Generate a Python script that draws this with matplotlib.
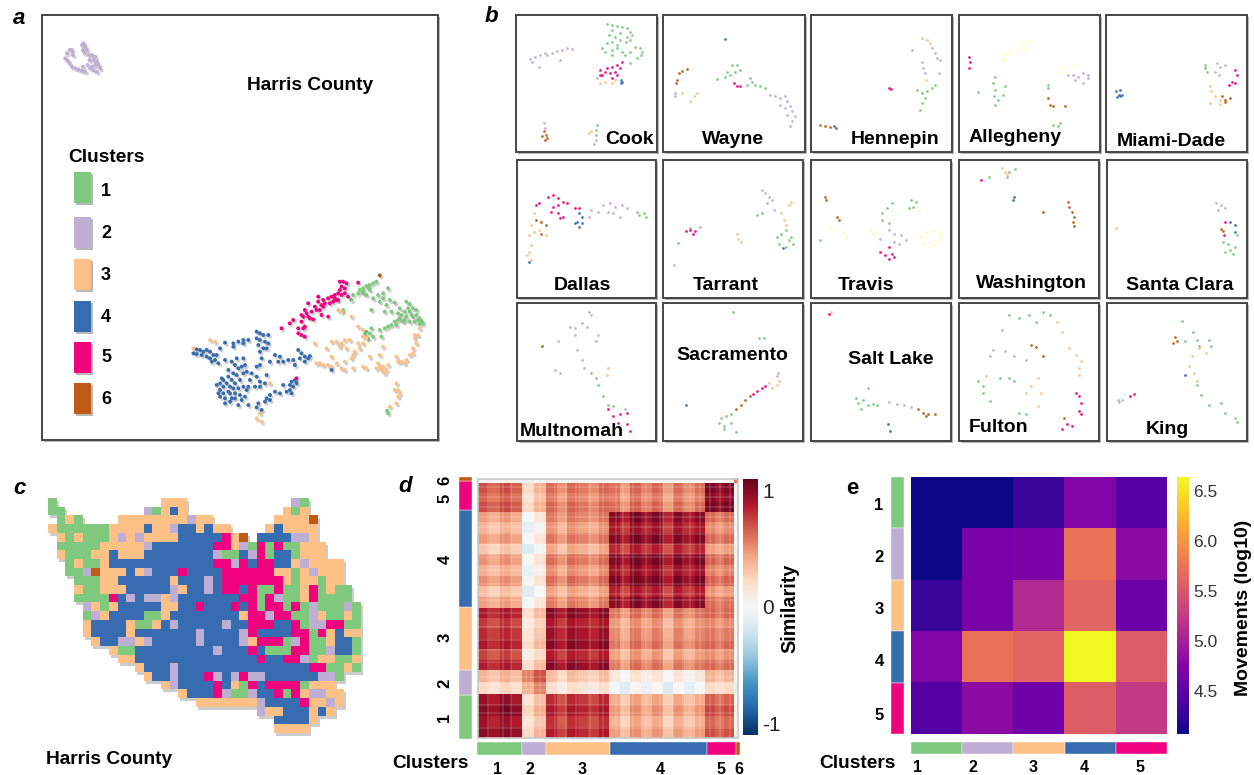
import numpy as np
import matplotlib
matplotlib.use('Agg')
import matplotlib.pyplot as plt
import matplotlib.patheffects as pe
from matplotlib.colors import ListedColormap
from matplotlib.patches import Rectangle

plt.rcParams['font.family'] = ['Liberation Sans', 'DejaVu Sans']

W, H = 1254, 775

# Accent palette, cluster number -> colour (7 only shows up in the small panels)
COLORS = {1: '#7fc97f', 2: '#beaed4', 3: '#fdc086', 4: '#386cb0', 5: '#f0027f', 6: '#bf5b17', 7: '#ffff99'}

# panel a, embedding positions per cluster
harris_1 = [(1040,845),(1030,850),(1020,855),(1010,858),(1000,865),(990,870),(985,880),(1000,880),(1010,885),(1020,870),
            (970,885),(965,900),(940,930),(1075,865),(1045,885),(1060,895),(1080,900),(1095,908),(1050,905),(1070,915),
            (1030,895),(1025,930),(1065,935),(1085,935),(1110,925),(1130,905),(1140,912),(1150,925),(1160,930),(1135,925),
            (1125,935),(1115,945),(1130,950),(1145,945),(1160,945),(1165,960),(1175,962),(1180,970),(1170,972),(1155,965),
            (1140,965),(1120,965),(1105,960),(1095,965),(1085,975),(1075,980),(1065,985),(1050,990),(1055,1010),(1025,985),
            (1010,995),(1020,1000),(1030,1010),(1015,1015),(1005,1005),(1075,1240),(1072,1232),
            (1150,950),(1170,955),(1140,935),(1125,960),(1110,955),(1105,940),(1100,975),(1060,880),(1000,875),(1015,862)]
harris_2 = [(105,175),(110,160),(118,150),(125,150),(128,165),(112,182),(118,190),(125,200),(135,205),(145,208),(155,212),
            (165,215),(158,200),(155,135),(160,130),(165,140),(170,150),(158,150),(162,158),(175,165),(185,165),(178,180),
            (190,180),(200,185),(205,195),(210,205),(195,195),(185,200),(190,210),(200,215),(180,205),(172,195),(195,170)]
harris_3 = [(490,1045),(540,1020),(555,1025),(720,1150),(690,1240),(680,1255),(695,1265),(925,930),(935,935),(965,950),
            (985,980),(1000,990),(855,1030),(890,1045),(905,1025),(920,1025),(935,1030),(945,1020),(960,1020),(930,1040),
            (1000,1030),(990,1045),(975,1055),(965,1075),(945,1085),(860,1090),(880,1095),(895,1095),(905,1070),(920,1090),
            (935,1105),(945,1110),(970,1105),(1000,1100),(1010,1105),(1020,1070),(1060,1040),(1050,1065),(1045,1090),
            (1040,1105),(1055,1110),(1070,1110),(1075,1095),(1100,1070),(1115,1085),(1130,1080),(1140,1065),(1150,1045),
            (1155,1015),(1165,1005),(1170,985),(1100,1150),(1105,1170),(1105,1190),(1100,1210),(1080,1220),
            (1050,1100),(1060,1100),(1065,1120),(1125,1090),(1105,1085),(1150,1060),(1160,1030),(1155,1005),(950,1045),
            (985,1030),(970,1065),(905,1100),(870,1090),(1000,1010),(1010,1015),(1095,1170),(1110,1180)]
harris_4 = [(490,1060),(500,1048),(510,1050),(520,1055),(530,1050),(540,1055),(550,1065),(555,1080),(530,1070),(545,1085),
            (565,1090),(585,1080),(570,1045),(585,1028),(610,1040),(625,1025),(640,1020),(655,1020),(680,995),(690,1000),
            (700,1005),(715,1005),(690,1020),(705,1025),(685,1035),(700,1045),(695,1075),(690,1095),(680,1100),(720,1085),
            (735,1065),(750,1070),(745,1085),(760,1085),(775,1080),(790,1080),(795,1095),(805,1050),(815,1060),(825,1070),
            (810,1075),(825,1085),(840,1068),(605,1085),(620,1075),(640,1075),(645,1095),(635,1100),(615,1095),(595,1110),
            (570,1150),(580,1160),(570,1170),(590,1150),(600,1160),(610,1120),(620,1125),(650,1115),(665,1120),(680,1130),
            (710,1125),(690,1145),(705,1150),(630,1140),(615,1150),(625,1165),(640,1160),(655,1160),(675,1160),(690,1160),
            (600,1180),(615,1180),(630,1185),(645,1190),(570,1190),(585,1195),(600,1205),(625,1215),(655,1215),(685,1210),
            (680,1222),(695,1230),(710,1195),(720,1185),(705,1205),(735,1175),(750,1180),(760,1155),(780,1170),(790,1160),
            (795,1140),(785,1180),(785,1145),(905,1110),
            (575,1135),(560,1155),(565,1180),(580,1140),(595,1130),(605,1140),(640,1120),(625,1105),(660,1140),(610,1165),
            (595,1175),(580,1180),(585,1210),(605,1195),(615,1195),(635,1200),(560,1065),(540,1075),(515,1065),(500,1062),
            (650,1170),(720,1200),(770,1175),(780,1155),(800,1150),(690,1055),(710,1045),(680,1015),(715,1030),(835,1075),
            (640,1030),(610,1030)]
harris_5 = [(755,985),(780,970),(790,960),(805,985),(820,985),(805,1000),(815,1005),(825,1010),(825,980),(815,945),(825,930),
            (835,910),(820,950),(830,940),(845,935),(855,920),(840,955),(850,958),(865,890),(865,905),(880,900),(880,920),
            (870,930),(875,945),(895,950),(885,910),(895,895),(905,890),(915,885),(925,880),(920,900),(910,905),(930,870),
            (935,860),(930,845),(940,845),(950,850),(945,880),(935,885),(955,890),(985,848),(800,1135),
            (900,910),(915,895),(875,915),(860,930),(835,950),(815,965),(945,865),(925,900)]
harris_6 = [(1050,826)]

# panel b, one dict per county: cluster -> positions
cook = {1: [(255,72),(265,75),(275,78),(285,80),(295,85),(300,95),(305,105),(295,110),(280,100),(265,90),(258,105),(270,110),
            (265,125),(280,120),(292,125),(300,120),(255,130),(245,145),(250,155),(265,150),(275,145),(285,155),(300,155),
            (310,140),(320,145),(325,155),(315,175),(300,190),(290,165),(265,165),(275,135),(322,165),(235,375),(233,390),(232,405)],
        2: [(100,178),(110,170),(120,165),(130,160),(145,158),(155,152),(165,150),(175,145),(185,148),(118,200),(105,185),
            (160,180),(135,165),(235,235),(128,370),(130,385),(232,420),(228,432)],
        3: [(240,248),(250,245),(265,250),(270,240),(222,395),(218,400)],
        4: [(283,240),(282,250),(285,245)],
        5: [(240,210),(245,225),(255,205),(265,200),(275,195),(285,185),(270,215),(260,220),(275,225),(240,225),(250,215),
            (265,235),(280,205)],
        6: [(128,395),(132,405),(125,410),(135,415),(130,420)]}
wayne = {1: [(475,238),(490,230),(495,215),(505,195),(515,195),(520,210),(500,225),(510,215),(540,235),(545,245),(550,255),
             (560,260),(570,265),(535,255)],
         2: [(390,280),(390,288),(580,285),(590,290),(600,295),(610,290),(615,305),(620,320),(625,335),(630,350),(625,365),
             (620,380),(615,345),(600,315),(610,325)],
         3: [(405,280),(435,280),(428,290),(420,303)],
         4: [(490,118)],
         5: [(508,250),(515,258),(520,260)],
         6: [(415,208),(405,212),(398,220),(395,240),(393,250)]}
hennepin = {1: [(910,255),(905,265),(895,275),(885,280),(875,270),(890,295),(885,310),(880,330)],
            2: [(865,150),(905,145),(910,160),(915,175),(920,180),(885,185),(887,205),(890,220),(918,220)],
            3: [(885,115),(895,120),(900,130),(892,240)],
            4: [(708,378),(712,385)],
            5: [(818,265),(822,268)],
            6: [(680,376),(690,378),(700,382)]}
allegheny = {1: [(1030,230),(1025,250),(1030,270),(1028,290),(1035,300),(1030,315),(1050,260),(1045,285),(995,278),(1135,255),
                 (1135,265),(1145,375),(1155,380),(1160,370)],
             2: [(1175,225),(1185,225),(1195,230),(1205,220),(1215,225),(1190,240),(1205,250),(1215,235)],
             5: [(978,172),(980,185),(978,205)],
             6: [(1135,295),(1140,315),(1145,320),(1170,320)],
             7: [(1095,122),(1085,130),(1075,145),(1060,155),(1050,165),(1048,180),(1090,150),(1165,205),(1160,220),(1190,195)]}
miami_dade = {1: [(1450,195),(1450,205),(1455,215)],
              2: [(1475,190),(1480,200),(1470,215),(1478,225),(1490,195)],
              3: [(1460,260),(1463,275),(1470,290),(1480,300),(1460,310),(1480,312)],
              4: [(1272,275),(1280,272),(1278,285),(1285,285),(1275,293),(1280,290)],
              5: [(1510,210),(1515,225),(1505,245),(1498,255),(1510,250)],
              6: [(1485,290),(1490,300),(1500,295),(1490,308)]}
dallas = {1: [(265,170),(270,180),(280,175),(285,185)],
          2: [(170,165),(165,185),(185,170),(195,150),(210,145),(220,155),(235,150),(245,160),(215,175),(230,185),(205,170)],
          3: [(50,175),(45,210),(40,240),(45,270),(40,290),(35,300),(45,315),(50,230),(75,240),(60,225)],
          4: [(145,175),(150,185),(140,200),(135,205),(150,205),(145,215),(40,320)],
          5: [(60,145),(55,150),(80,125),(90,120),(100,130),(110,140),(120,145),(100,150),(90,155),(85,170),(100,175),(110,185),
              (105,190),(135,160),(145,160)],
          6: [(55,195),(65,200),(75,210),(65,235)]}
tarrant = {1: [(515,180),(525,175),(375,218),(350,262),(555,245),(565,235),(575,225),(585,245),(590,265),(575,275),(560,265),(580,255)],
           2: [(525,105),(530,115),(540,125),(545,135),(535,145),(550,165),(340,330),(395,215)],
           3: [(585,140),(580,150),(565,175),(570,195),(575,210),(472,235),(475,250),(480,260)],
           4: [(568,278)],
           5: [(365,228),(375,225),(385,228),(380,235)]}
travis = {1: [(646,255),(795,145),(785,160),(775,175),(775,195),(790,205),(835,135),(845,140),(840,155),(830,160)],
          2: [(790,225),(800,235),(815,240),(825,255),(810,265),(770,250),(800,260)],
          5: [(770,290),(780,300),(790,310),(795,295),(790,275),(800,305)],
          6: [(657,125),(658,135),(682,185),(685,195)],
          7: [(668,222),(695,230),(700,245),(750,225),(755,235),(855,245),(865,230),(880,228),(895,235),(895,255),(880,268),(860,265),(851,165)]}
washington = {1: [(1040,52),(1052,42),(998,65),(1035,65)],
              3: [(1025,40),(1030,50),(1035,58)],
              4: [(1049,125),(1048,135)],
              5: [(980,75)],
              6: [(1110,170),(1162,140),(1165,155),(1170,170),(1175,185),(1172,200),(1175,212)]}
santa_clara = {1: [(1485,260),(1495,265),(1510,275),(1500,285),(1490,290),(1505,295),(1515,240)],
               2: [(1470,145),(1480,150),(1490,160),(1475,165)],
               3: [(1262,220)],
               4: [(1500,200),(1510,210),(1510,230)],
               5: [(1490,200),(1488,240)],
               6: [(1480,222),(1485,228)]}
multnomah = {1: [(170,225),(180,240),(185,262),(195,295),(205,320),(215,325)],
             2: [(165,42),(170,50),(125,85),(135,90),(150,75),(160,85),(135,110),(185,110),(180,130),(100,130),(140,155),(150,185),
                 (155,210),(95,215),(105,225),(240,335)],
             3: [(205,210),(203,230)],
             5: [(205,335),(215,355),(230,350),(245,345),(225,375),(245,380),(250,400)],
             6: [(68,145)]}
sacramento = {1: [(465,42),(518,118),(528,118),(440,360),(450,355),(460,350),(435,375),(445,385),(460,375),(445,395),(470,402)],
              2: [(558,225),(555,235)],
              3: [(540,255),(555,260),(560,250),(545,270)],
              4: [(365,320)],
              5: [(505,288),(515,280),(525,270),(530,265)],
              6: [(500,295),(490,305),(480,320),(470,335)]}
salt_lake = {1: [(745,270),(720,300),(725,315),(735,305),(745,320),(730,335),(755,318),(765,320)],
             2: [(790,312),(805,318),(820,322),(835,328)],
             3: [(668,40)],
             4: [(788,380),(792,400)],
             5: [(665,48)],
             6: [(850,335),(860,345),(870,350),(885,348),(865,355)]}
fulton = {1: [(1040,50),(1060,60),(1080,50),(1110,42),(1125,50),(1095,70),(1020,240),(1040,240),(1050,250),(975,250),(985,265),
              (985,285),(1000,310),(1060,345),(1075,350)],
          2: [(1025,95),(1005,155),(1000,175),(1030,160),(1050,175),(1075,185)],
          3: [(1140,70),(1150,100),(1165,150),(1180,170),(1190,190),(1185,210),(1185,230),(1100,240),(1085,265),(1075,285),(1105,285),
              (1100,325),(992,235)],
          5: [(1180,285),(1185,295),(1190,315),(1185,340),(1190,350),(1160,380),(1150,395),(1170,385)],
          6: [(1085,142),(1095,148),(1110,175),(1155,360)]}
king = {1: [(1400,68),(1422,100),(1430,125),(1435,145),(1455,125),(1460,145),(1405,130),(1430,260),(1440,290),(1455,320),(1480,315),
            (1490,345),(1510,360),(1515,372)],
        2: [(1265,305),(1275,305),(1268,312)],
        3: [(1420,175),(1415,205),(1425,225),(1430,250),(1435,150),(1450,165)],
        4: [(1405,232)],
        5: [(1290,295),(1300,288)],
        6: [(1385,115),(1380,135),(1388,128)]}

county_names = ['Cook', 'Wayne', 'Hennepin', 'Allegheny', 'Miami-Dade',
                'Dallas', 'Tarrant', 'Travis', 'Washington', 'Santa Clara',
                'Multnomah', 'Sacramento', 'Salt Lake', 'Fulton', 'King']
county_points = [cook, wayne, hennepin, allegheny, miami_dade,
                 dallas, tarrant, travis, washington, santa_clara,
                 multnomah, sacramento, salt_lake, fulton, king]

# panel c, grid cells. each row lists "column:cluster" change points, '.' is outside the county
map_rows = [
    "0:1 1:. 13:3 16:. 28:2 29:1 30:.",
    "0:1 2:. 11:2 12:1 13:3 14:4 15:3 16:. 27:3 28:1 29:3 30:.",
    "1:1 2:3 3:1 4:. 8:3 16:2 17:3 19:. 26:3 30:6 31:.",
    "0:3 1:1 7:3 11:4 12:3 14:2 15:4 17:3 18:4 19:3 21:. 25:3 26:4 27:3 31:.",
    "1:3 2:1 3:3 4:1 7:3 8:2 9:3 10:2 11:3 15:4 20:5 21:3 22:6 23:. 24:4 28:2 30:3 31:.",
    "1:1 6:3 11:2 12:4 19:5 21:3 22:2 23:1 24:5 25:1 26:5 27:1 29:3 32:.",
    "1:3 2:1 5:3 7:4 8:3 11:4 19:2 20:1 22:4 23:2 24:5 25:1 26:4 28:1 29:3 32:.",
    "2:1 3:3 4:1 6:3 7:4 19:5 21:2 22:5 23:4 24:5 26:4 28:3 29:2 30:3 34:.",
    "2:1 4:2 5:6 6:3 9:4 10:3 11:2 12:4 15:5 16:4 20:5 26:3 28:1 29:3 30:2 31:3 34:.",
    "3:1 6:3 8:4 14:3 15:4 18:2 19:4 20:5 27:3 28:1 29:3 31:1 32:3 34:.",
    "3:3 4:1 6:3 9:4 14:2 15:3 16:4 18:2 19:4 20:5 22:4 23:5 24:1 26:5 27:1 29:3 30:5 31:1 32:3 33:1 35:.",
    "3:1 7:5 8:4 9:2 10:4 11:2 13:3 14:2 15:4 22:5 24:1 25:5 26:2 27:1 29:3 30:5 31:1 35:.",
    "4:2 5:3 6:1 7:3 8:4 13:3 15:4 17:5 18:4 21:5 22:4 23:5 24:1 25:5 27:1 28:5 29:1 30:2 31:1 34:2 35:1 36:.",
    "4:1 5:2 6:3 7:4 11:1 13:3 14:4 22:3 23:5 25:2 26:5 28:1 30:2 31:3 32:1 34:3 35:1 36:.",
    "4:3 5:4 9:3 10:1 12:3 13:4 14:2 15:4 20:2 21:4 23:5 26:4 28:5 29:1 30:2 32:5 34:1 36:.",
    "4:3 5:4 9:3 10:4 17:2 18:4 22:2 23:5 24:4 28:5 30:1 31:5 32:3 33:4 34:3 36:.",
    "5:3 6:4 8:2 10:3 11:2 12:4 17:2 18:4 22:2 23:3 24:5 27:1 28:2 29:5 30:1 32:3 33:4 35:1 36:.",
    "7:3 8:1 10:4 19:2 20:4 23:5 24:4 25:1 28:5 30:1 32:2 33:4 35:1 36:.",
    "8:3 10:4 24:5 25:4 27:5 29:2 30:1 31:3 33:1 35:3 36:.",
    "10:3 11:4 14:2 15:4 30:5 32:1 34:3 35:1 36:.",
    "11:3 12:4 14:2 15:4 18:5 19:2 20:4 21:2 22:5 23:2 25:4 31:2 33:1 34:.",
    "13:3 14:2 15:4 19:5 20:4 21:3 22:1 23:5 24:4 25:5 29:1 30:3 33:.",
    "15:3 16:4 19:5 20:2 21:1 23:2 24:4 26:5 27:1 28:5 29:3 30:2 32:3 34:.",
    "17:3 24:2 25:4 29:5 30:3 32:2 33:3 34:.",
    "24:2 25:3 27:4 30:3 31:4 32:3 33:.",
    "26:4 30:3 31:.",
    "26:3 30:.",
]

# panel d, cluster sizes and how many stripes each cluster is read into
cluster_sizes = [132, 73, 188, 289, 86, 12]
cluster_bands = [4, 2, 6, 9, 3, 1]

# similarity x100, upper triangle of the stripe matrix, bottom-left stripe first
sim_upper = [
    [98,93,100,96,23,38,88,75,89,83,78,89,46,33,51,40,50,31,48,37,47,72,65,71,5],
    [85,95,88,15,30,80,67,81,75,70,81,38,25,43,32,42,23,40,29,39,64,57,63,0],
    [105,98,25,40,90,77,91,85,80,91,48,35,53,42,52,33,50,39,49,74,67,73,8],
    [91,18,33,83,70,84,78,73,84,41,28,46,35,45,26,43,32,42,67,60,66,2],
    [40,55,20,7,21,15,10,21,-2,-15,3,-8,2,-17,0,-11,-1,24,17,23,-10],
    [70,35,22,36,30,25,36,13,0,18,7,17,-2,15,4,14,39,32,38,0],
    [100,87,101,95,90,101,58,45,63,52,62,43,60,49,59,64,57,63,5],
    [74,88,82,77,88,45,32,50,39,49,30,47,36,46,51,44,50,0],
    [102,96,91,102,59,46,64,53,63,44,61,50,60,65,58,64,5],
    [90,85,96,53,40,58,47,57,38,55,44,54,59,52,58,2],
    [80,91,48,35,53,42,52,33,50,39,49,54,47,53,0],
    [102,59,46,64,53,63,44,61,50,60,65,58,64,5],
    [99,86,104,93,103,84,101,90,100,62,55,61,0],
    [73,91,80,90,71,88,77,87,49,42,48,-5],
    [105,98,105,89,105,95,105,67,60,66,2],
    [87,97,78,95,84,94,56,49,55,0],
    [105,88,105,94,104,66,59,65,2],
    [69,86,75,85,47,40,46,-5],
    [103,92,102,64,57,63,0],
    [81,91,53,46,52,-3],
    [101,63,56,62,0],
    [105,98,104,5],
    [91,97,0],
    [103,5],
    [60],
]
# pale thin stripes running through the whole matrix, in the same units as cluster_sizes
pale_stripes = [30, 75, 100, 145, 160, 185, 230, 265, 295, 335, 375, 415, 435, 465,
                505, 545, 555, 585, 615, 635, 665, 695, 725, 755]

# panel e, movements between clusters (log10)
movements = [
    [4.07, 4.08, 4.28, 4.75, 4.45],
    [4.08, 4.68, 4.72, 5.72, 4.82],
    [4.28, 4.70, 5.10, 5.62, 4.60],
    [4.75, 5.72, 5.62, 6.64, 5.55],
    [4.45, 4.82, 4.62, 5.55, 5.25],
]

SHADOW = [pe.SimplePatchShadow(offset=(1.5, -1.5), alpha=0.28, shadow_rgbFace='k'), pe.Normal()]
DOT_SHADOW = [pe.SimplePatchShadow(offset=(1.2, -1.5), alpha=0.18, shadow_rgbFace='k'), pe.Normal()]

fig = plt.figure(figsize=(W / 100, H / 100), dpi=100, facecolor='white')


def px_axes(x0, y0, x1, y1, **kw):
    # axes from pixel box, y counted from the top of the picture
    return fig.add_axes([x0 / W, 1 - y1 / H, (x1 - x0) / W, (y1 - y0) / H], **kw)


def cluster_bar(box, sizes, keys, horizontal=True, flip=False):
    ax = px_axes(*box)
    edges = np.concatenate(([0], np.cumsum(sizes)))
    for k, start, size in zip(keys, edges[:-1], sizes):
        if horizontal:
            ax.bar(start, 1, width=size, align='edge', color=COLORS[k], edgecolor='white', linewidth=0.3)
        else:
            ax.barh(start, 1, height=size, align='edge', color=COLORS[k], edgecolor='white', linewidth=0.3)
    if horizontal:
        ax.set_xlim(0, edges[-1])
        ax.set_ylim(0, 1)
    else:
        ax.set_ylim(edges[-1], 0) if flip else ax.set_ylim(0, edges[-1])
        ax.set_xlim(0, 1)
    ax.axis('off')
    return ax


# under layer holds the frames, top layer the texts, both in picture pixels
under = px_axes(0, 0, W, H, zorder=-1)
under.set_xlim(0, W)
under.set_ylim(H, 0)
under.axis('off')
top = px_axes(0, 0, W, H, zorder=10)
top.set_xlim(0, W)
top.set_ylim(H, 0)
top.axis('off')
top.patch.set_alpha(0)


def label(x, y, s, size=13.8, **kw):
    kw.setdefault('weight', 'bold')
    kw.setdefault('color', 'black')
    top.text(x, y, s, fontsize=size, ha='center', va='center', **kw)


def frame(x0, y0, x1, y1):
    under.add_patch(Rectangle((x0, y0), x1 - x0, y1 - y0, facecolor='white', edgecolor='#454545',
                              linewidth=1.4, path_effects=SHADOW))


for s, x, y in [('a', 19, 18), ('b', 491, 17), ('c', 19, 489), ('d', 405, 486)]:
    label(x, y, s, size=16, style='italic')
label(852, 488, 'e', size=16)

# a
frame(42, 15, 438, 440)
ax_a = px_axes(42, 15, 438, 440)
for k, pts in zip(range(1, 7), [harris_1, harris_2, harris_3, harris_4, harris_5, harris_6]):
    xy = np.array(pts)
    ax_a.scatter(xy[:, 0], xy[:, 1], s=8, color=COLORS[k], linewidths=0, path_effects=DOT_SHADOW)
ax_a.set_xlim(35, 1225)
ax_a.set_ylim(1320, 45)
ax_a.axis('off')

label(310, 85, 'Harris County')
label(106, 157, 'Clusters')
legend_tops = [172, 217, 259, 301, 342, 383]
legend_text_y = [191, 233, 275, 317, 358, 400]
for k, (ty, ly) in enumerate(zip(legend_tops, legend_text_y), start=1):
    under.add_patch(Rectangle((74, ty), 17, 31, facecolor=COLORS[k], edgecolor='none', path_effects=SHADOW))
    label(106, ly, str(k), size=13)

# b
frame_x = [(516, 657), (663, 805), (811, 952), (959, 1100), (1106, 1247),
           (517, 656), (663, 803), (811, 951), (959, 1099), (1107, 1247),
           (517, 656), (663, 803), (811, 951), (959, 1099), (1107, 1247)]
frame_y = [(15, 152)] * 5 + [(160, 298)] * 5 + [(303, 441)] * 5
read_x = [(72, 355), (367, 650), (662, 945), (958, 1240), (1253, 1535),
          (15, 305), (318, 610), (627, 918), (935, 1227), (1243, 1535),
          (15, 305), (318, 610), (627, 918), (935, 1227), (1243, 1535)]
read_y = [(45, 457)] * 5 + [(15, 428)] * 5 + [(14, 430)] * 5
name_xy = [(630, 139), (733, 139), (895, 140), (1015, 138), (1171, 142),
           (582, 285), (726, 285), (866, 285), (1031, 283), (1180, 285),
           (572, 431), (732, 355), (891, 360), (999, 428), (1167, 429)]

for i, name in enumerate(county_names):
    frame(frame_x[i][0], frame_y[i][0], frame_x[i][1], frame_y[i][1])
    ax = px_axes(frame_x[i][0], frame_y[i][0], frame_x[i][1], frame_y[i][1])
    for k, pts in county_points[i].items():
        xy = np.array(pts)
        ax.scatter(xy[:, 0], xy[:, 1], s=4, color=COLORS[k], linewidths=0, alpha=0.9)
    ax.set_xlim(*read_x[i])
    ax.set_ylim(read_y[i][1], read_y[i][0])
    ax.axis('off')
    label(name_xy[i][0], name_xy[i][1], name, size=14)

# c
grid = np.full((len(map_rows), 36), np.nan)
for r, row in enumerate(map_rows):
    parts = [p.split(':') for p in row.split()]
    for (col, code), (next_col, _) in zip(parts, parts[1:] + [['36', '.']]):
        if code != '.':
            grid[r, int(col):int(next_col)] = int(code)

map_cmap = ListedColormap([COLORS[k] for k in range(1, 7)])
ax_c = px_axes(44, 495, 368, 740)
ax_c.imshow(np.where(np.isnan(grid), np.nan, 1.0), cmap=ListedColormap(['#555555']), alpha=0.3,
            extent=(0.25, 36.25, 27.25, 0.25), aspect='auto', interpolation='nearest')
ax_c.imshow(grid, cmap=map_cmap, vmin=0.5, vmax=6.5, extent=(0, 36, 27, 0), aspect='auto', interpolation='nearest')
ax_c.set_xlim((44 - 47.7) / 8.67, (368 - 47.7) / 8.67)
ax_c.set_ylim((740 - 499.3) / 8.67, (495 - 499.3) / 8.67)
ax_c.axis('off')
label(109, 759, 'Harris County')

# d
edges = [0.0]
for size, n in zip(cluster_sizes, cluster_bands):
    start = edges[-1]
    for j in range(n):
        edges.append(start + size / n * (j + 1))
edges = np.array(edges)

n = len(sim_upper)
sim = np.zeros((n, n))
for i, row in enumerate(sim_upper):
    sim[i, i:] = row
    sim[i:, i] = row
sim = sim / 100

ax_d = px_axes(478, 479, 738, 738)
mesh = ax_d.pcolormesh(edges, edges, sim, cmap='RdBu_r', vmin=-1.1, vmax=1.1)
for p in pale_stripes:
    ax_d.axvline(p, color='white', alpha=0.16, linewidth=1.2)
    ax_d.axhline(p, color='white', alpha=0.16, linewidth=1.2)
ax_d.set_xticks([])
ax_d.set_yticks([])
for sp in ax_d.spines.values():
    sp.set_color('#c8c8c8')
    sp.set_linewidth(1.2)

cax_d = px_axes(743, 479, 758, 735)
cb_d = fig.colorbar(mesh, cax=cax_d)
cb_d.set_ticks([-1, 0, 1])
cb_d.set_ticklabels(['-1', '0', '1'])
cb_d.ax.tick_params(length=0, labelsize=15, pad=3, labelcolor='#222222')
cb_d.outline.set_visible(False)
label(790, 608, 'Similarity', size=14.2, rotation=90)

keys_d = [1, 2, 3, 4, 5, 6]
cluster_bar((459, 477, 472, 739), cluster_sizes, keys_d, horizontal=False)
cluster_bar((477, 742, 740, 755), cluster_sizes, keys_d, horizontal=True)
for s, y in zip('654321', [480, 498, 559, 637, 683, 717]):
    label(445, y, s, size=12, rotation=90)
label(430, 764, 'Clusters')
for s, x in zip('123456', [498, 530, 582, 660, 721, 739]):
    label(x, 770, s, size=11.5)

# e
ax_e = px_axes(911, 477, 1167, 734)
im = ax_e.imshow(movements, cmap='plasma', vmin=4.07, vmax=6.64, aspect='auto', interpolation='nearest')
ax_e.set_xticks([])
ax_e.set_yticks([])
for sp in ax_e.spines.values():
    sp.set_visible(False)

cax_e = px_axes(1177, 477, 1189, 734)
cb_e = fig.colorbar(im, cax=cax_e)
cb_e.set_ticks([4.5, 5.0, 5.5, 6.0, 6.5])
cb_e.ax.tick_params(length=0, labelsize=12.5, pad=3, labelcolor='#333333')
cb_e.outline.set_visible(False)
label(1243, 608, 'Movements (log10)', size=14, rotation=90)

cluster_bar((891, 477, 904, 734), [1] * 5, [1, 2, 3, 4, 5], horizontal=False, flip=True)
cluster_bar((911, 742, 1167, 754), [1] * 5, [1, 2, 3, 4, 5], horizontal=True)
for s, y in zip('12345', [505, 557, 609, 662, 715]):
    label(879, y, s, size=12)
label(857, 763, 'Clusters')
for s, x in zip('12345', [917, 973, 1033, 1084, 1140]):
    label(x, 768, s, size=11.5)

fig.savefig('out.png', dpi=100)
